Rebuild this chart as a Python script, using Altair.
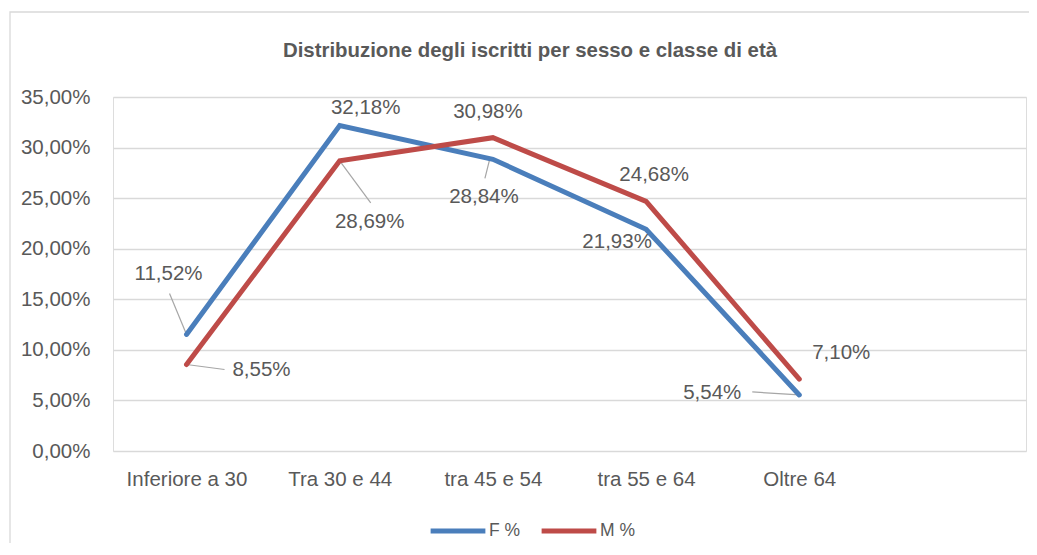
import altair as alt
import pandas as pd

# ---- data ----
categories = ["Inferiore a 30", "Tra 30 e 44", "tra 45 e 54", "tra 55 e 64", "Oltre 64"]
f_values = [11.52, 32.18, 28.84, 21.93, 5.54]
m_values = [8.55, 28.69, 30.98, 24.68, 7.10]
series_names = ["F %", "M %"]
y_ticks = [0, 5, 10, 15, 20, 25, 30, 35]
title_text = "Distribuzione degli iscritti per sesso e classe di età"

rows = []
for name, vals in zip(series_names, [f_values, m_values]):
    for i, (c, v) in enumerate(zip(categories, vals)):
        rows.append({"serie": name, "idx": i, "cat": c, "val": v,
                     "lab": f"{v:.2f}".replace(".", ",") + "%"})
df = pd.DataFrame(rows)

# ---- layout of data labels (pixel offsets from point) ----
label_offsets = {
    ("F %", 0): (-18, -60), ("F %", 1): (26, -18), ("F %", 2): (-9, 38),
    ("F %", 3): (-29, 13), ("F %", 4): (-87, -2),
    ("M %", 0): (75, 5), ("M %", 1): (30, 61), ("M %", 2): (-5, -26),
    ("M %", 3): (8, -26), ("M %", 4): (42, -26),
}
leaders = {
    ("F %", 0): (0, 0, -17, -41),
    ("M %", 0): (0, 0, 38, 5),
    ("M %", 1): (0, 0, 31, 42),
    ("F %", 2): (-3, -1, -8, 19),
    ("F %", 4): (0, 0, -47, -3),
}

FONT = "Liberation Sans, Arial, sans-serif"
TXT = "#595959"
GRID = "#d9d9d9"
PW, PH = 913, 354
FS = 20.5

xscale = alt.Scale(domain=[-0.48, 5.48], nice=False, zero=False)
yscale = alt.Scale(domain=[0, 35], nice=False)

label_expr = "[" + ",".join(f"'{c}'" for c in categories) + "][datum.value]"

base = alt.Chart(df)

lines = base.mark_line(strokeWidth=5, strokeJoin="miter", strokeCap="round").encode(
    x=alt.X("idx:Q", scale=xscale,
            axis=alt.Axis(values=list(range(len(categories))), labelExpr=label_expr,
                          grid=False, ticks=False, domain=False, labelPadding=18,
                          labelFontSize=FS, labelColor=TXT, labelFont=FONT, title=None)),
    y=alt.Y("val:Q", scale=yscale,
            axis=alt.Axis(values=y_ticks,
                          labelExpr="replace(format(datum.value, '.2f'), '.', ',') + '%'",
                          grid=True, gridColor=GRID, gridWidth=1.3, ticks=False, domain=False,
                          labelPadding=23, labelFontSize=FS, labelColor=TXT, labelFont=FONT,
                          title=None)),
    color=alt.Color("serie:N",
                    scale=alt.Scale(domain=series_names, range=["#4a7ebb", "#be4b48"]),
                    legend=alt.Legend(title=None, orient="none", direction="horizontal",
                                      legendX=315, legendY=404, symbolType="stroke",
                                      symbolSize=3000, symbolStrokeWidth=5,
                                      labelFontSize=17.5, labelColor=TXT, labelFont=FONT,
                                      labelOffset=1, columnPadding=10, padding=0)),
    order="idx:Q",
)

layers = []
# leader lines
for (s, i), (x0, y0, x1, y1) in leaders.items():
    layers.append(
        base.transform_filter((alt.datum.serie == s) & (alt.datum.idx == i))
        .mark_rule(color="#a6a6a6", strokeWidth=1.2, xOffset=x0, yOffset=y0,
                   x2Offset=x1, y2Offset=y1)
        .encode(x=alt.X("idx:Q", scale=xscale), y=alt.Y("val:Q", scale=yscale),
                x2="idx:Q", y2="val:Q")
    )

layers.append(lines)

for (s, i), (dx, dy) in label_offsets.items():
    layers.append(
        base.transform_filter((alt.datum.serie == s) & (alt.datum.idx == i))
        .mark_text(dx=dx, dy=dy, fontSize=FS, font=FONT, color=TXT,
                   align="center", baseline="middle")
        .encode(x=alt.X("idx:Q", scale=xscale), y=alt.Y("val:Q", scale=yscale),
                text="lab:N")
    )

single = alt.Chart(pd.DataFrame({"t": [title_text]}))

border = single.mark_rect(
    fill=None, stroke="#d9d9d9", strokeWidth=1.3, clip=False
).encode(x=alt.value(-103), x2=alt.value(925), y=alt.value(-85), y2=alt.value(455))

title = single.mark_text(
    font=FONT, fontSize=20.4, fontWeight="bold", color=TXT,
    align="center", baseline="alphabetic"
).encode(x=alt.value(417), y=alt.value(-40), text="t:N")

chart = alt.layer(border, title, *layers).properties(
    width=PW, height=PH,
    autosize=alt.AutoSizeParams(type="none"),
    padding={"left": 105, "top": 89, "right": 3, "bottom": 92},
).configure_view(stroke=None).configure(background="white")

chart.save("out.html", embed_options={"renderer": "svg", "actions": False})
